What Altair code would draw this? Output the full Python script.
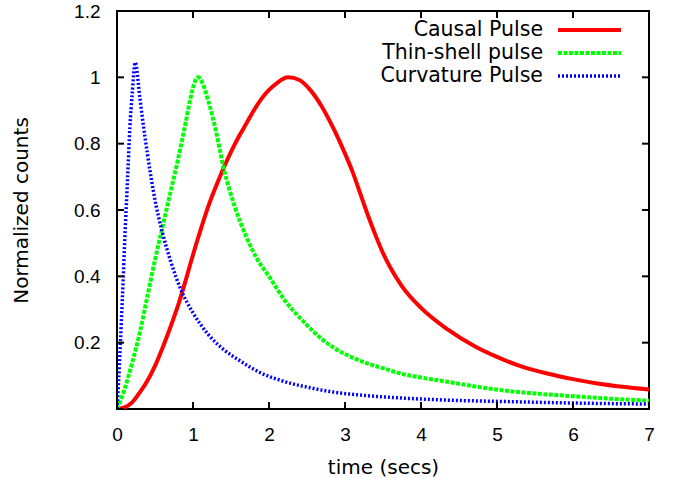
import altair as alt
import pandas as pd

# ---- data ----
series_names = ["Causal Pulse", "Thin-shell pulse", "Curvature Pulse"]
series_colors = ["#ff0000", "#00ff00", "#0000ff"]

causal_t = [0, 0.1, 0.2, 0.3, 0.4, 0.5, 0.6, 0.7, 0.8, 0.9, 1.0, 1.1, 1.2, 1.3, 1.4, 1.5,
            1.6, 1.7, 1.8, 1.9, 2.0, 2.1, 2.25, 2.4, 2.55, 2.7, 2.85, 3.0, 3.1, 3.2, 3.3,
            3.4, 3.5, 3.6, 3.75, 4.0, 4.35, 4.7, 5.0, 5.3, 5.66, 6.0, 6.32, 6.65, 7.0]
causal_v = [0, 0.005, 0.02, 0.05, 0.085, 0.13, 0.185, 0.245, 0.31, 0.385, 0.465, 0.54,
            0.61, 0.67, 0.725, 0.775, 0.82, 0.86, 0.9, 0.935, 0.962, 0.982, 1.0, 0.992,
            0.96, 0.91, 0.845, 0.77, 0.715, 0.65, 0.585, 0.525, 0.47, 0.425, 0.37, 0.305,
            0.24, 0.19, 0.157, 0.13, 0.107, 0.09, 0.077, 0.067, 0.059]

thin_t = [0, 0.1, 0.2, 0.3, 0.4, 0.5, 0.6, 0.7, 0.8, 0.9, 0.97, 1.03, 1.07, 1.12, 1.2,
          1.3, 1.4, 1.55, 1.7, 1.85, 2.0, 2.2, 2.47, 2.7, 2.85, 3.1, 3.3, 3.5, 3.75, 4.0,
          4.35, 4.8, 5.2, 5.6, 6.1, 6.5, 7.0]
thin_v = [0, 0.06, 0.14, 0.23, 0.34, 0.45, 0.55, 0.65, 0.75, 0.86, 0.94, 0.99, 1.0,
          0.985, 0.93, 0.84, 0.73, 0.61, 0.52, 0.45, 0.4, 0.33, 0.26, 0.21, 0.185,
          0.155, 0.137, 0.123, 0.106, 0.095, 0.082, 0.065, 0.053, 0.045, 0.037, 0.031, 0.025]

curv_t = [0, 0.02, 0.045, 0.07, 0.11, 0.14, 0.17, 0.2, 0.24, 0.3, 0.35, 0.4, 0.5, 0.6,
          0.7, 0.85, 1.0, 1.2, 1.4, 1.62, 1.9, 2.2, 2.54, 2.85, 3.2, 3.6, 4.2, 5.2, 6.0, 7.0]
curv_v = [0, 0.08, 0.2, 0.33, 0.55, 0.7, 0.85, 0.95, 1.045, 0.94, 0.85, 0.77, 0.63,
          0.53, 0.45, 0.355, 0.29, 0.225, 0.18, 0.145, 0.108, 0.083, 0.064, 0.051, 0.042,
          0.035, 0.028, 0.022, 0.018, 0.015]

x_ticks = [0, 1, 2, 3, 4, 5, 6, 7]
y_ticks = [0, 0.2, 0.4, 0.6, 0.8, 1.0, 1.2]
y_labels = [0.2, 0.4, 0.6, 0.8, 1.0, 1.2]

# ---- layout ----
W, H = 532, 398
LABEL_FONT = "Liberation Sans"
TEXT_FONT = "DejaVu Sans"

xs = alt.Scale(domain=[0, 7], nice=False, zero=False)
ys = alt.Scale(domain=[0, 1.2], nice=False, zero=False)

x_axis = alt.Axis(values=x_ticks, title="time (secs)", ticks=False, domain=False, grid=False,
                  labelFont=LABEL_FONT, labelFontSize=19, labelColor="black",
                  labelPadding=16, labelBaseline="top", labelFlush=False,
                  titleFont=TEXT_FONT, titleFontSize=20, titleFontWeight="normal",
                  titleColor="black", titleY=64, titleBaseline="alphabetic")
y_axis = alt.Axis(values=y_labels, format="~g", title="Normalized counts", ticks=False,
                  domain=False, grid=False, labelFont=LABEL_FONT, labelFontSize=19,
                  labelColor="black", labelPadding=17, labelFlush=False,
                  titleFont=TEXT_FONT, titleFontSize=20, titleFontWeight="normal",
                  titleColor="black", titleX=-90, titleY=H / 2, titleAngle=-90,
                  titleBaseline="alphabetic", titleAlign="center")

X = alt.X("t:Q", scale=xs, axis=x_axis)
Y = alt.Y("v:Q", scale=ys, axis=y_axis)

styles = [
    dict(strokeWidth=4),
    dict(strokeWidth=4, strokeDash=[4, 1.5]),
    dict(strokeWidth=3.5, strokeDash=[2, 2]),
]
series_data = [(causal_t, causal_v), (thin_t, thin_v), (curv_t, curv_v)]

layers = []
for name, color, (ts, vs), st in zip(series_names, series_colors, series_data, styles):
    df = pd.DataFrame({"t": ts, "v": vs, "i": range(len(ts)), "series": name})
    layers.append(alt.Chart(df).mark_line(color=color, clip=True, interpolate="monotone", **st)
                  .encode(x=X, y=Y, order="i:Q"))

# inward ticks on all four sides (gnuplot style, mirrored)
xt = pd.DataFrame({"t": x_ticks})
yt = pd.DataFrame({"v": y_ticks})
tick_len = 7
tk = dict(color="black", strokeWidth=2)
layers.append(alt.Chart(xt).mark_rule(**tk).encode(x=X, y=alt.value(H), y2=alt.value(H - tick_len)))
layers.append(alt.Chart(xt).mark_rule(**tk).encode(x=X, y=alt.value(0), y2=alt.value(tick_len)))
layers.append(alt.Chart(yt).mark_rule(**tk).encode(y=Y, x=alt.value(0), x2=alt.value(tick_len)))
layers.append(alt.Chart(yt).mark_rule(**tk).encode(y=Y, x=alt.value(W), x2=alt.value(W - tick_len)))

# legend (labels on the left, sample lines on the right, inside top-right)
leg_text_x = 426
leg_line_x1, leg_line_x2 = 441, 504
for k, (name, color, st) in enumerate(zip(series_names, series_colors, styles)):
    row_y = 19 + 23 * k
    ld = pd.DataFrame({"label": [name]})
    layers.append(alt.Chart(ld).mark_text(align="right", baseline="middle", font=TEXT_FONT,
                                          fontSize=20.5, color="black")
                  .encode(text="label:N", x=alt.value(leg_text_x), y=alt.value(row_y)))
    layers.append(alt.Chart(ld).mark_rule(color=color, **st)
                  .encode(x=alt.value(leg_line_x1), x2=alt.value(leg_line_x2), y=alt.value(row_y)))

chart = alt.layer(*layers).properties(
    width=W, height=H,
    padding={"left": 117, "top": 11, "right": 24, "bottom": 69},
    autosize=alt.AutoSizeParams(type="none"),
    background="white",
).configure_view(stroke="black", strokeWidth=2)

chart.save("out.html", embed_options={"renderer": "svg", "actions": False})
